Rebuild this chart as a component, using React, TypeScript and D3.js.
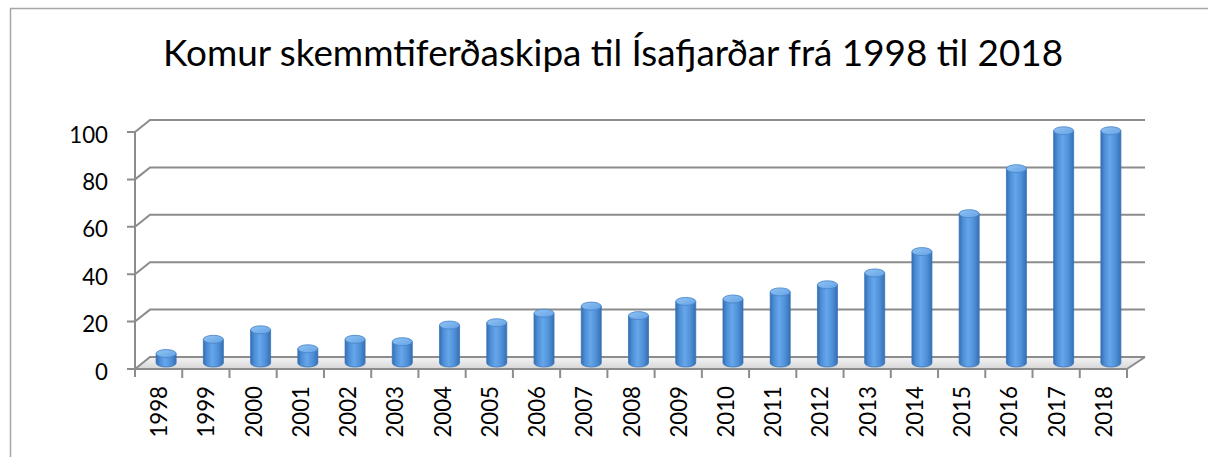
import React from "react";
import * as d3 from "d3";

// Komur skemmtiferðaskipa til Ísafjarðar
const years = [
  "1998", "1999", "2000", "2001", "2002", "2003", "2004", "2005", "2006", "2007",
  "2008", "2009", "2010", "2011", "2012", "2013", "2014", "2015", "2016", "2017", "2018",
];
const arrivals = [4, 10, 14, 6, 10, 9, 16, 17, 21, 24, 20, 26, 27, 30, 33, 38, 47, 63, 82, 98, 98];
const yTicks = [0, 20, 40, 60, 80, 100];
const title = "Komur skemmtiferðaskipa til Ísafjarðar frá 1998 til 2018";

const W = 1208;
const H = 457;
const font = "Lato, 'Open Sans', sans-serif";

export default function App() {
  const x = d3.scaleBand().domain(years).range([135, 1127]).paddingInner(0).paddingOuter(0);
  const y = d3.scaleLinear().domain([0, 100]).range([369, 132]);
  // depth of the 3d box
  const dx = 15;
  const dy = -12;
  const backRight = 1145;
  const barW = 20;
  const ry = 4;
  const grid = "#8c8c8c";
  const digit = 12.9; // advance of one digit in the labels

  return (
    <svg width={W} height={H} style={{ position: "absolute", left: 0, top: 0, background: "#fff" }}>
      <defs>
        <linearGradient id="cyl" x1="0" x2="1" y1="0" y2="0">
          <stop offset="0%" stopColor="#336eb2" />
          <stop offset="18%" stopColor="#4c8dd6" />
          <stop offset="45%" stopColor="#66a6ea" />
          <stop offset="75%" stopColor="#4f8fd7" />
          <stop offset="100%" stopColor="#346fb3" />
        </linearGradient>
        <linearGradient id="cap" x1="0" x2="1" y1="0" y2="1">
          <stop offset="0%" stopColor="#90c3f3" />
          <stop offset="100%" stopColor="#64a2e6" />
        </linearGradient>
        <linearGradient id="floor" x1="0" x2="0" y1="0" y2="1">
          <stop offset="0%" stopColor="#f4f4f4" />
          <stop offset="100%" stopColor="#d6d6d6" />
        </linearGradient>
      </defs>

      {/* chart border */}
      <path d={`M10.5,${H} V8.5 H${W}`} fill="none" stroke="#a6a6a6" strokeWidth={1.5} />

      <text x={613} y={66} textAnchor="middle" fontFamily={font} fontSize={36} fill="#000"
        textLength={900} lengthAdjust="spacingAndGlyphs">
        {title}
      </text>

      {/* floor */}
      <path
        d={`M${x.range()[0]},${y(0)} L${x.range()[1]},${y(0)} L${backRight},${y(0) + dy} L${x.range()[0] + dx},${y(0) + dy} Z`}
        fill="url(#floor)" stroke="#bdbdbd" strokeWidth={1}
      />

      {/* gridlines: side wall diagonal + back wall */}
      {yTicks.map((t) => (
        <g key={t}>
          <path
            d={`M127,${y(t)} H135 L${135 + dx},${y(t) + dy} H${backRight}`}
            fill="none" stroke={grid} strokeWidth={2}
          />
          <text x={108} y={y(t) + 10.5} textAnchor="end" fontFamily={font} fontSize={24} fill="#000"
            textLength={String(t).length * digit} lengthAdjust="spacingAndGlyphs">
            {t}
          </text>
        </g>
      ))}
      {/* floor right side */}
      <path d={`M${x.range()[1]},${y(0)} L${backRight},${y(0) + dy}`} stroke={grid} strokeWidth={2} />

      {/* y axis */}
      <line x1={135} x2={135} y1={y(100)} y2={y(0) + 8} stroke={grid} strokeWidth={2} />
      {/* x axis */}
      <line x1={135} x2={x.range()[1]} y1={y(0)} y2={y(0)} stroke={grid} strokeWidth={2} />
      {years.map((yr) => (
        <line key={"t" + yr} x1={(x(yr) ?? 0) + x.bandwidth()} x2={(x(yr) ?? 0) + x.bandwidth()}
          y1={y(0)} y2={y(0) + 9} stroke={grid} strokeWidth={2} />
      ))}

      {/* cylinders */}
      {years.map((yr, i) => {
        const cx = (x(yr) ?? 0) + x.bandwidth() / 2 + dx / 2;
        const base = y(0) + dy / 2;
        const top = y(arrivals[i]) + dy / 2;
        return (
          <g key={yr}>
            <path
              d={`M${cx - barW / 2},${top} V${base} A${barW / 2},${ry} 0 0 0 ${cx + barW / 2},${base} V${top} Z`}
              fill="url(#cyl)" stroke="#3a74b6" strokeWidth={0.8}
            />
            <ellipse cx={cx} cy={top} rx={barW / 2} ry={ry} fill="url(#cap)" stroke="#4681c6" strokeWidth={0.8} />
          </g>
        );
      })}

      {/* x labels */}
      {years.map((yr) => {
        const cx = (x(yr) ?? 0) + x.bandwidth() / 2 + 8.5;
        return (
          <text key={"l" + yr} transform={`translate(${cx},386) rotate(-90)`} textAnchor="end"
            fontFamily={font} fontSize={24} fill="#000"
            textLength={yr.length * digit} lengthAdjust="spacingAndGlyphs">
            {yr}
          </text>
        );
      })}
    </svg>
  );
}
